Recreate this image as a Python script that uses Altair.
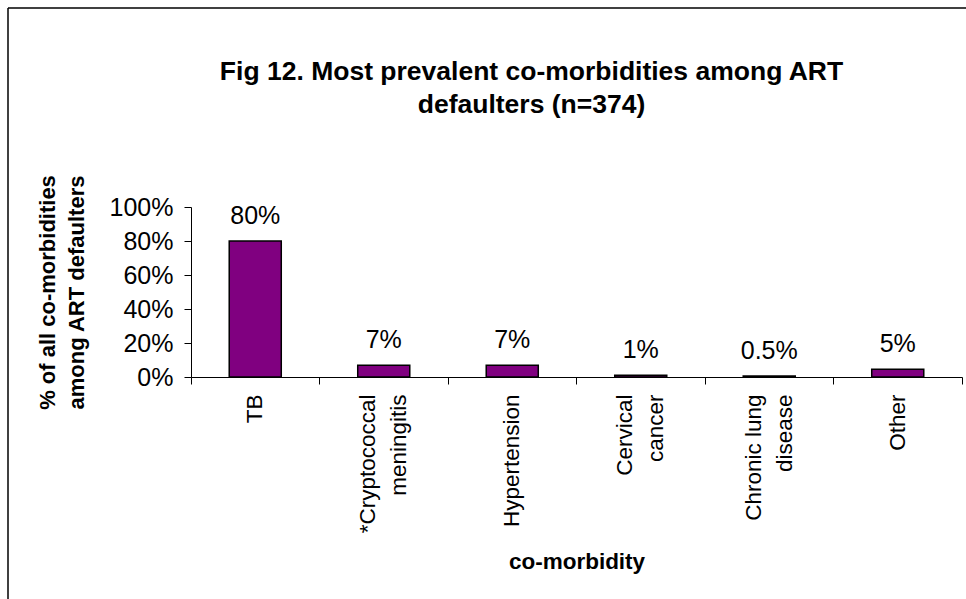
import altair as alt
import pandas as pd

categories = ["TB", "*Cryptococcal|meningitis", "Hypertension", "Cervical|cancer",
              "Chronic lung|disease", "Other"]
values = [0.80, 0.0695, 0.0695, 0.0107, 0.0053, 0.045]
value_labels = ["80%", "7%", "7%", "1%", "0.5%", "5%"]
y_ticks = [0, 0.2, 0.4, 0.6, 0.8, 1.0]

df = pd.DataFrame({"cat": categories, "val": values, "lab": value_labels})

FONT = "Liberation Sans"
xscale = alt.Scale(domain=categories, paddingInner=0, paddingOuter=0)
yscale = alt.Scale(domain=[0, 1], nice=False)

bars = alt.Chart(df).mark_bar(
    color="#800080", stroke="black", strokeWidth=1.5,
    width=alt.RelativeBandSize(0.405)
).encode(
    x=alt.X("cat:N", sort=categories, scale=xscale, title="co-morbidity",
            axis=alt.Axis(orient="bottom", labelAngle=-90,
                          labelExpr="split(datum.label, '|')",
                          labelOffset=alt.condition("indexof(datum.label, '|') >= 0",
                                                    alt.value(-15.5), alt.value(0)),
                          labelFont=FONT, labelFontSize=22.5, labelColor="black",
                          labelLineHeight=31, labelPadding=17, labelAlign="right",
                          labelBaseline="middle", labelOverlap=False,
                          ticks=False, domain=True, domainColor="black", domainWidth=1,
                          titleFont=FONT, titleFontSize=22.5, titleFontWeight="bold",
                          titleColor="black", titleY=173, titleBaseline="top")),
    y=alt.Y("val:Q", scale=yscale,
            title=["% of all co-morbidities", "among ART defaulters"],
            axis=alt.Axis(format="%", values=y_ticks, grid=False,
                          labelOverlap=False, labelFlush=False,
                          labelFont=FONT, labelFontSize=25, labelColor="black",
                          labelPadding=11, tickSize=7, tickColor="black",
                          domainColor="black", domainWidth=1,
                          titleFont=FONT, titleFontSize=22, titleFontWeight="bold",
                          titleColor="black", titleAngle=-90, titleX=-144, titleY=85,
                          titleAlign="center", titleBaseline="middle",
                          titleLineHeight=29)),
)

texts = alt.Chart(df).mark_text(
    font=FONT, fontSize=25, color="black", baseline="alphabetic", dy=-17
).encode(
    x=alt.X("cat:N", sort=categories, scale=xscale, title=None,
            axis=alt.Axis(orient="bottom", labels=False, ticks=True, tickSize=7,
                          tickColor="black", bandPosition=1, tickExtra=True,
                          domain=False)),
    y=alt.Y("val:Q", scale=yscale, axis=None),
    text="lab:N",
)

frame_df = pd.DataFrame({"k": [0]})
frame_left = alt.Chart(frame_df).mark_rule(color="black", strokeWidth=1.5).encode(
    x=alt.value(-183), y=alt.value(-199), y2=alt.value(400))
frame_top = alt.Chart(frame_df).mark_rule(color="black", strokeWidth=1.5).encode(
    x=alt.value(-183), x2=alt.value(800), y=alt.value(-199))

chart = alt.layer(bars, texts, frame_left, frame_top).resolve_axis(
    x="independent", y="independent"
).properties(
    width=771, height=170,
    autosize=alt.AutoSizeParams(type="none"),
    padding={"left": 191, "top": 207, "right": 4, "bottom": 222},
    title=alt.TitleParams(
        text=["Fig 12. Most prevalent co-morbidities among ART", "defaulters (n=374)"],
        font=FONT, fontSize=26.5, fontWeight="bold", color="black",
        anchor="middle", dx=-45, offset=-111, lineHeight=33),
    background="white",
).configure_view(stroke=None)

chart.save("out.html", embed_options={"renderer": "svg", "actions": False})
